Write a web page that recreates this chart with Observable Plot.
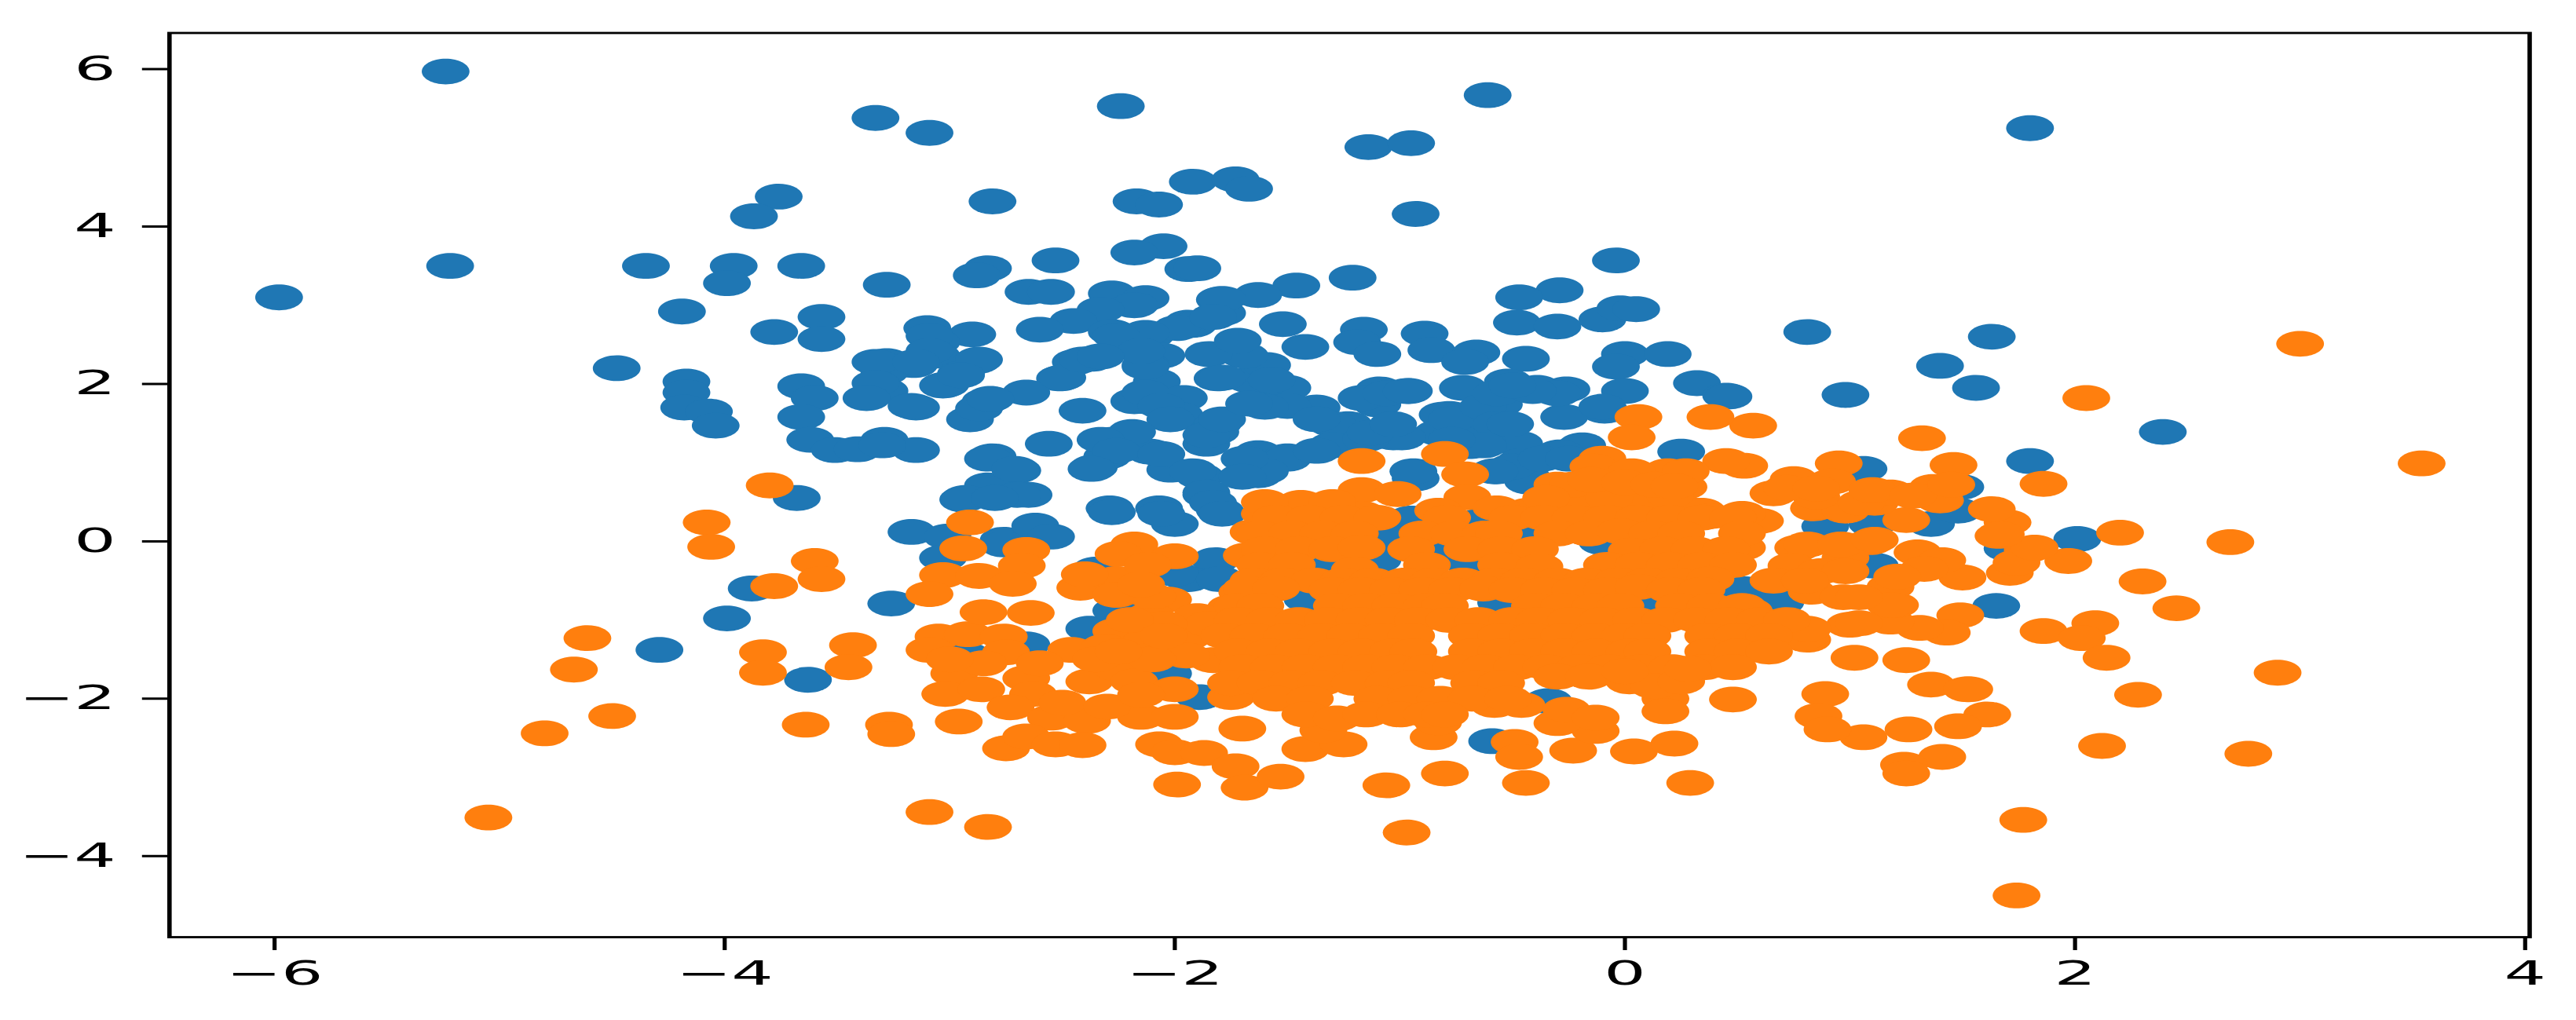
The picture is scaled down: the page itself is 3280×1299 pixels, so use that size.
<!DOCTYPE html>
<html>
<head>
<meta charset="utf-8">
<script src="https://cdn.jsdelivr.net/npm/d3@7"></script>
<script src="https://cdn.jsdelivr.net/npm/@observablehq/plot@0.6"></script>
<style>
html,body{margin:0;padding:0;background:#fff;}
</style>
</head>
<body>
<div id="chart"></div>
<script>
const xTicks = [-6,-4,-2,0,2,4];
const yTicks = [-4,-2,0,2,4,6];
const blueColor = "#1f77b4";
const orangeColor = "#ff7f0e";

const bluePoints = [
[-5.24,5.97],[-5.22,3.50],[-5.98,3.10],[-4.35,3.50],[-3.96,3.50],[-3.99,3.28],[-3.66,3.50],[-3.76,4.38],[-3.87,4.13],[-4.19,2.92],
[-3.78,2.66],[-3.57,2.85],[-3.57,2.57],[-4.48,2.20],[-4.17,2.03],[-4.17,1.89],[-4.18,1.70],[-4.07,1.65],[-4.04,1.47],[-3.66,1.97],
[-3.60,1.82],[-3.66,1.58],[-3.62,1.29],[-3.51,1.16],[-3.68,0.55],[-3.33,5.38],[-3.09,5.19],[-2.24,5.53],[-0.61,5.67],[-1.14,5.01],
[-0.95,5.06],[-2.81,4.32],[-1.92,4.57],[-1.73,4.60],[-1.67,4.48],[-2.17,4.32],[-2.07,4.28],[-0.93,4.16],[-2.05,3.75],[-2.18,3.67],
[-1.94,3.46],[-1.90,3.47],[-2.53,3.57],[-2.83,3.47],[-2.88,3.38],[-3.28,3.26],[-0.04,3.57],[-1.21,3.35],[-1.46,3.25],[-1.63,3.13],
[-1.80,3.07],[-0.29,3.19],[-0.47,3.10],[-2.65,3.17],[-2.55,3.17],[-2.28,3.15],[-2.13,3.09],[-2.18,3.00],[-2.33,2.94],[-2.45,2.80],
[-2.60,2.69],[-2.28,2.66],[-2.11,2.61],[-1.94,2.78],[-1.79,2.90],[-1.52,2.76],[-3.10,2.71],[-2.90,2.63],[-3.06,2.53],[-3.06,2.36],
[-3.28,2.29],[-3.16,2.24],[-2.88,2.29],[-2.95,2.13],[-3.02,1.99],[-3.29,2.15],[-3.29,1.91],[-3.15,1.70],[-1.16,2.69],[-1.42,2.47],
[-1.19,2.53],[-1.10,2.38],[-0.89,2.64],[-0.86,2.43],[-0.66,2.40],[-0.71,2.28],[-0.44,2.32],[-0.48,2.78],[-0.30,2.73],[-0.10,2.82],
[-0.02,2.96],[0.05,2.95],[0.00,2.38],[0.19,2.38],[-0.04,2.22],[0.00,1.91],[-0.09,1.66],[0.32,2.01],[0.45,1.85],[-0.27,1.58],
[-0.26,1.93],[-0.39,1.95],[-0.72,1.95],[-0.52,2.03],[-0.96,1.91],[-1.09,1.93],[-1.10,1.74],[-0.78,1.62],[-0.56,1.74],[-0.61,1.45],
[-0.47,1.24],[-0.69,1.21],[-0.93,0.80],[-0.20,1.16],[0.25,1.14],[-0.44,0.83],[-1.03,1.32],[-1.23,1.49],[-1.37,1.70],[-1.59,1.78],
[-1.50,1.95],[-1.81,2.07],[-1.67,2.05],[-1.59,2.24],[-1.69,2.36],[-1.85,2.38],[-2.06,2.36],[-2.13,2.24],[-2.08,2.03],[-2.13,1.78],
[-1.96,1.82],[-1.98,1.61],[-1.81,1.49],[-1.86,1.24],[-2.28,1.29],[-2.11,1.14],[-2.36,0.94],[-2.30,1.08],[-2.02,0.91],[-1.89,0.83],
[-1.86,0.59],[-1.63,1.12],[-1.63,0.84],[-1.50,1.08],[-2.41,1.66],[-2.18,1.78],[-2.37,2.32],[-2.44,2.28],[-2.51,2.07],[-2.66,1.89],
[-2.84,1.78],[-2.91,1.55],[-2.56,1.24],[-3.29,1.29],[-3.15,1.16],[-2.81,1.08],[-2.70,0.90],[-2.83,0.71],[-2.65,0.59],[-2.94,0.53],
[-2.29,0.42],[-2.07,0.42],[1.80,5.25],[0.81,2.66],[1.63,2.60],[1.40,2.23],[1.56,1.95],[0.98,1.86],[0.46,1.84],[2.39,1.39],
[1.80,1.02],[2.01,0.03],[1.65,-0.82],[0.89,0.19],[1.10,0.22],[1.36,0.22],[1.48,0.39],[1.49,0.69],[1.06,0.92],[0.69,-0.78],
[0.53,-0.61],[1.11,-0.31],[1.70,-0.09],[-0.94,0.89],[-0.43,0.76],[-0.46,1.02],[-0.57,0.89],[-0.19,1.22],[-0.29,1.13],[-0.70,1.28],
[-0.81,1.61],[-0.83,1.38],[-0.99,1.32],[-1.30,1.49],[-1.50,1.05],[-1.60,0.89],[-1.30,1.22],[-1.15,1.30],[-3.17,0.12],[-3.26,-0.79],
[-3.63,-1.76],[-3.01,0.06],[-2.76,0.02],[-2.62,0.20],[-2.55,0.06],[-3.03,-0.21],[-2.76,-0.04],[-2.28,0.37],[-2.00,0.22],[-2.06,0.35],
[-1.80,0.39],[-1.82,-0.24],[-1.94,-0.48],[-2.00,-0.41],[-1.80,-0.48],[-2.35,-0.36],[-2.38,-1.11],[-2.66,-1.31],[-2.93,-1.44],[-2.03,-1.68],
[-1.89,-1.98],[-2.26,-0.88],[-0.55,-0.78],[-1.41,-0.74],[-1.33,-0.31],[-1.10,-0.24],[-0.83,-0.11],[-0.69,-0.28],[-0.95,0.29],[-1.06,0.05],
[-0.34,-2.03],[-0.10,-0.01],[0.10,-0.74],[-0.65,0.25],[-0.59,-2.54],[-3.88,-0.60],[-3.99,-0.98],[-4.29,-1.38],[-0.43,0.12],
/* inside the blue mass */
[-1.50,1.72],[-1.37,1.55],[-1.57,2.05],[-1.60,1.71],[-1.37,1.15],[-1.17,1.82],[-1.06,1.88],[-0.97,1.91],[-1.13,1.38],[-1.03,1.49],
[-0.77,1.55],[-0.63,1.71],[-0.57,1.88],[-0.57,1.49],[-0.50,0.95],[-0.37,1.05],[-0.63,1.22],[-0.77,1.29],[-0.25,1.05],[-0.10,1.71],
[-0.30,1.88],[-0.41,1.91],[-0.50,1.98],[-0.51,1.49],[-0.58,0.89],[-2.13,2.22],[-2.13,1.89],[-2.06,1.72],[-2.02,1.55],[-2.19,1.39],
[-2.33,1.29],[-2.26,1.15],[-2.37,0.92],[-2.06,1.11],[-1.92,0.89],[-1.86,0.62],[-1.83,0.49],[-1.82,1.39],[-1.86,1.35],[-1.79,1.55],
[-1.69,1.05],[-1.70,0.82],[-1.67,1.75],[-1.79,2.08],[-1.72,2.55],[-1.92,2.75],[-1.99,2.71],[-2.13,2.65],[-2.26,2.61],[-1.79,3.08],
[-1.83,2.85],[-2.15,2.42],[-3.33,2.28],[-3.33,2.01],[-3.37,1.82],[-3.09,2.61],[-3.09,2.42],[-3.17,1.72],[-3.15,2.28],[-2.87,2.31],
[-3.03,1.98],[-2.95,2.11],[-3.41,1.17],[-3.30,1.22],[-2.83,1.05],[-2.71,0.92],[-2.70,0.59],[-2.93,0.55],[-2.80,0.55],[-2.87,1.69],
[-2.82,1.81],[-2.50,2.08],[-2.41,2.31],[-2.33,2.35],[-1.79,0.35]
];

const orangePoints = [
/* outlying points */
[3.00,2.51],[2.05,1.82],[3.54,0.99],[0.57,1.47],[1.32,1.31],[1.86,0.73],[2.20,0.11],[2.69,-0.01],[2.30,-0.51],[2.45,-0.85],
[1.97,-0.25],[2.09,-1.04],[1.86,-1.14],[2.03,-1.23],[2.14,-1.48],[2.90,-1.67],[2.28,-1.95],[2.12,-2.60],[2.77,-2.70],[1.77,-3.54],
[1.74,-4.50],[1.02,-1.48],[1.25,-1.51],[1.36,-1.82],[1.53,-1.88],[0.89,-1.94],[1.61,-2.20],[1.48,-2.35],[1.26,-2.39],[1.06,-2.49],
[0.86,-2.22],[0.90,-2.39],[1.41,-2.74],[1.24,-2.84],[1.25,-2.95],[0.48,-2.01],[1.71,-0.40],[1.79,-0.11],[1.70,0.24],[1.66,0.07],
[1.74,-0.27],[1.50,-0.46],[1.49,-0.94],[1.43,-1.16],[1.31,-1.10],[1.18,-1.02],[1.20,-0.81],[1.00,-1.06],[0.81,-1.25],[0.62,-1.37],
[1.63,0.41],[1.82,-0.08],[1.67,0.09],[0.80,-1.21],[0.61,-1.38],[1.52,-1.88],[1.25,0.27],[1.30,-0.14],[1.41,-0.24],[1.09,-0.01],
[0.98,-0.21],[0.77,-0.08],[0.84,0.42],[0.98,0.39],[1.11,0.49],[1.39,0.54],[0.66,0.61],[0.53,0.26],[0.81,-0.48],[1.18,-0.58],
[1.18,-0.81],[0.83,-0.64],[0.97,-0.71],[0.55,-0.88],[0.81,-1.11],[0.52,-1.31],[1.46,0.97],[0.95,0.99],[0.53,0.96],[0.75,0.79],
[0.92,0.76],[0.85,0.57],[1.18,0.62],[1.37,0.69],[1.40,0.52],[1.05,0.49],[0.72,0.68],[0.85,0.67],[1.10,0.65],[1.28,0.58],
[1.45,0.72],[0.60,0.26],[0.52,-0.08],[0.81,-0.04],[0.96,-0.04],[1.11,0.02],[0.74,-0.31],[0.87,-0.38],[0.98,-0.38],[1.04,-0.71],
[1.04,-1.04],[1.33,-0.35],[1.21,-0.45],
/* top of the cloud */
[0.06,1.58],[0.03,1.32],[0.38,1.58],[-0.10,1.05],[-0.30,0.72],[-1.17,1.02],[-0.80,1.11],[-0.71,0.85],[-1.17,0.65],[-1.01,0.60],
[-1.44,0.49],[0.45,1.02],[0.19,0.89],[0.26,0.69],[-0.03,0.65],[-0.43,0.39],[-0.19,0.52],[0.07,0.49],[0.26,0.42],[-0.70,0.56],
[-0.83,0.39],[-1.17,0.35],[-1.44,0.22],[-1.60,0.35],[-0.23,0.72],[-0.14,0.95],[0.03,0.89],[0.27,0.89],[0.34,0.39],[-0.57,0.42],
[-0.35,0.55],[-1.60,0.50],[-1.30,0.50],[-0.07,0.55],[0.20,0.58],[0.38,0.32],[0.52,0.35],[-0.15,0.78],[0.00,0.75],[0.13,0.72],
[0.22,0.70],
/* left part */
[-5.05,-3.51],[-4.80,-2.44],[-4.50,-2.22],[-4.67,-1.63],[-4.61,-1.23],[-4.08,0.24],[-4.06,-0.07],[-3.60,-0.25],[-3.57,-0.48],[-3.78,-0.57],
[-3.83,-1.41],[-3.83,-1.67],[-3.64,-2.33],[-3.43,-1.32],[-3.45,-1.60],[-3.80,0.71],[-2.91,0.24],[-2.94,-0.09],[-2.66,-0.11],[-2.68,-0.31],
[-3.03,-0.43],[-2.87,-0.44],[-2.72,-0.54],[-3.09,-0.67],[-2.64,-0.91],[-3.05,-1.21],[-2.92,-1.18],[-2.76,-1.21],[-3.09,-1.38],[-2.75,-1.41],
[-2.98,-1.68],[-2.66,-1.74],[-3.02,-1.94],[-2.86,-1.88],[-2.63,-1.94],[-2.73,-2.11],[-2.96,-2.29],[-3.27,-2.33],[-3.26,-2.45],[-2.55,-2.24],
[-2.39,-2.28],[-2.75,-2.63],[-2.66,-2.48],[-2.53,-2.58],[-2.41,-2.59],[-2.15,-2.23],[-2.00,-2.23],[-2.07,-2.58],[-2.00,-2.68],[-1.87,-2.69],
[-1.73,-2.86],[-1.99,-3.09],[-1.69,-3.13],[-3.09,-3.44],[-2.83,-3.63],[-1.70,-2.38],[-1.75,-1.98],[-2.18,-0.04],[-2.25,-0.16],[-2.00,-0.19],
[-2.26,-0.48],[-2.42,-0.59],[-2.03,-0.74],[-2.26,-0.68],[-2.11,-0.94],[-2.26,-1.14],[-2.46,-1.38],[-2.31,-1.34],[-2.13,-1.28],[-1.94,-1.21],
[-2.38,-1.78],[-2.26,-1.61],[-2.18,-1.78],[-2.00,-1.88],[-1.83,-1.51],[-1.75,-1.21],[-1.75,-0.84],[-1.68,-0.18],[-1.65,0.12],[-2.10,-0.70],
[-1.90,-0.95],[-1.85,-1.05],[-2.05,-1.05],[-2.20,-1.00],[-1.95,-1.45],[-2.10,-1.50],[-2.12,-0.30],[-2.40,-0.42],[-2.15,-0.55],[-2.35,-1.50],
[-2.50,-2.05],[-2.30,-2.10],[-2.15,-1.95],[-2.60,-1.55],[-2.85,-1.55],[-3.00,-1.50],[-2.85,-0.90],[-2.25,-1.40],[-2.05,-1.20],[-1.70,-0.65],
/* bottom of the cloud */
[-1.53,-2.99],[-1.42,-2.64],[-1.25,-2.58],[-1.34,-2.40],[-1.06,-3.10],[-0.80,-2.95],[-0.44,-3.07],[0.29,-3.07],[-0.97,-3.70],[-0.49,-2.55],
[-0.47,-2.74],[-0.23,-2.66],[0.04,-2.67],[0.22,-2.57],[-0.85,-2.49],[-0.13,-2.41],[-0.30,-2.31],[-0.83,-2.30],[0.18,-2.00],[0.18,-2.16],
[-0.46,-2.08],[-0.26,-2.14],[-0.13,-2.24],[-0.58,-2.08],
/* dense body, row by row */
[-1.55,0.30],[-1.40,0.30],[-1.25,0.30],[-1.10,0.30],[-0.79,0.30],[-0.50,0.30],[-0.36,0.30],[-0.22,0.30],[-0.08,0.30],[0.06,0.30],[0.20,0.30],[0.34,0.30],[0.48,0.30],
[-1.62,0.10],[-1.48,0.10],[-1.34,0.10],[-1.20,0.10],[-0.90,0.10],[-0.76,0.10],[-0.62,0.10],[-0.56,0.10],[-0.30,0.10],[-0.16,0.10],[-0.02,0.13],[0.12,0.10],[0.25,0.10],[0.52,0.10],
[-1.60,-0.10],[-1.45,-0.10],[-1.30,-0.10],[-1.17,-0.08],[-0.95,-0.10],[-0.70,-0.10],[-0.55,-0.10],[-0.40,-0.10],[0.03,-0.12],[0.17,-0.10],[0.31,-0.10],[0.45,-0.10],
[-1.62,-0.30],[-1.48,-0.30],[-1.20,-0.36],[-0.88,-0.30],[-0.55,-0.30],[-0.38,-0.32],[-0.08,-0.30],[0.06,-0.30],[0.20,-0.30],[0.34,-0.30],[0.48,-0.30],
[-1.65,-0.50],[-1.52,-0.50],[-1.38,-0.50],[-1.25,-0.50],[-1.12,-0.50],[-0.98,-0.50],[-0.85,-0.50],[-0.72,-0.50],[-0.58,-0.50],[-0.45,-0.50],[-0.30,-0.50],[-0.17,-0.50],[-0.03,-0.50],[0.10,-0.50],[0.24,-0.50],[0.38,-0.48],[0.66,-0.50],[0.80,-0.50],
[-1.68,-0.60],[-1.55,-0.60],[-1.30,-0.62],[-1.17,-0.62],[-1.03,-0.62],[-0.90,-0.62],[-0.77,-0.62],[-0.63,-0.60],[-0.50,-0.62],[-0.36,-0.62],[-0.22,-0.62],[-0.08,-0.62],[0.06,-0.58],[0.20,-0.62],[0.34,-0.62],
[-1.72,-0.82],[-1.62,-0.82],[-1.28,-0.82],[-1.15,-0.82],[-1.02,-0.82],[-0.88,-0.82],[-0.80,-0.82],[-0.40,-0.82],[-0.27,-0.82],[-0.13,-0.82],[-0.02,-0.82],[0.24,-0.82],[0.38,-0.82],[0.52,-0.82],
[-1.72,-1.00],[-1.58,-1.00],[-1.45,-1.00],[-1.32,-1.00],[-1.18,-1.00],[-1.05,-1.00],[-0.92,-1.00],[-0.78,-1.00],[-0.65,-1.00],[-0.50,-1.00],[-0.38,-1.00],[-0.24,-1.00],[-0.10,-1.00],[0.05,-1.00],[0.18,-1.00],[0.32,-1.00],[0.46,-1.00],[0.60,-1.00],[0.72,-1.00],
[-1.78,-1.20],[-1.65,-1.20],[-1.50,-1.20],[-1.35,-1.20],[-1.22,-1.20],[-1.08,-1.20],[-0.95,-1.20],[-0.68,-1.20],[-0.55,-1.20],[-0.41,-1.20],[-0.27,-1.20],[-0.13,-1.20],[0.00,-1.20],[0.10,-1.20],[0.37,-1.20],[0.50,-1.20],[0.64,-1.20],
[-1.72,-1.40],[-1.58,-1.40],[-1.45,-1.40],[-1.30,-1.40],[-1.17,-1.40],[-1.03,-1.40],[-0.94,-1.40],[-0.68,-1.40],[-0.55,-1.40],[-0.41,-1.40],[-0.27,-1.40],[-0.13,-1.40],[0.02,-1.40],[0.10,-1.40],[0.37,-1.40],[0.50,-1.40],[0.64,-1.40],
[-1.70,-1.60],[-1.56,-1.60],[-1.42,-1.60],[-1.28,-1.60],[-1.15,-1.60],[-1.02,-1.60],[-0.88,-1.60],[-0.75,-1.60],[-0.62,-1.60],[-0.48,-1.60],[-0.35,-1.60],[-0.20,-1.60],[-0.07,-1.60],[0.07,-1.60],[0.21,-1.60],[0.35,-1.60],[0.48,-1.60],
[-1.75,-1.80],[-1.62,-1.80],[-1.48,-1.80],[-1.35,-1.80],[-1.20,-1.80],[-1.05,-1.80],[-0.95,-1.80],[-0.67,-1.80],[-0.55,-1.80],[-0.30,-1.72],[-0.16,-1.72],[0.02,-1.78],[0.13,-1.84],[0.25,-1.78],[0.00,-1.65],[0.28,-1.62],
[-1.55,-2.00],[-1.40,-2.00],[-1.10,-2.00],[-0.95,-2.00],[-0.82,-2.00],[-0.68,-2.00],[-0.52,-2.00],
[-1.42,-2.20],[-1.28,-2.25],[-1.15,-2.20],[-1.00,-2.20],[-0.88,-2.20],[-0.80,-2.20]
];

const blueData = bluePoints.map(([x,y]) => ({x,y}));
const orangeData = orangePoints.map(([x,y]) => ({x,y}));
const fmt = d => String(d).replace("-", "\u2212");

// The reference is a stretched scatter: its discs are slightly taller than a plain 2:1 stretch gives.
const tallDisc = {
  draw(context, size) {
    const rx = Math.sqrt(size / Math.PI), ry = rx * 1.08, k = 0.5523;
    context.moveTo(rx, 0);
    context.bezierCurveTo(rx, k * ry, k * rx, ry, 0, ry);
    context.bezierCurveTo(-k * rx, ry, -rx, k * ry, -rx, 0);
    context.bezierCurveTo(-rx, -k * ry, -k * rx, -ry, 0, -ry);
    context.bezierCurveTo(k * rx, -ry, rx, -k * ry, rx, 0);
    context.closePath();
  }
};

const chart = Plot.plot({
  width: 1640,
  height: 1299,
  marginLeft: 107.4,
  marginRight: 30,
  marginTop: 41.5,
  marginBottom: 106,
  style: {fontFamily: "'DejaVu Sans', sans-serif", background: "#fff", color: "#000"},
  x: {domain: [-6.467, 4.02], label: null},
  y: {domain: [-5.03, 6.46], label: null},
  marks: [
    Plot.dot(blueData, {x: "x", y: "y", r: 15.2, symbol: tallDisc, fill: blueColor, stroke: "none", clip: true}),
    Plot.dot(orangeData, {x: "x", y: "y", r: 15.2, symbol: tallDisc, fill: orangeColor, stroke: "none", clip: true}),
    Plot.frame({stroke: "#000", strokeWidth: 2.8}),
    Plot.axisX({ticks: xTicks, tickFormat: fmt, tickSize: 17, tickPadding: 14, fontSize: 42, strokeWidth: 2.6, stroke: "#000", fill: "#000", label: null}),
    Plot.axisY({ticks: yTicks, tickFormat: fmt, tickSize: 17, tickPadding: 17, fontSize: 42, strokeWidth: 3, stroke: "#000", fill: "#000", label: null})
  ]
});
chart.setAttribute("width", 3280);
chart.setAttribute("height", 1299);
chart.setAttribute("preserveAspectRatio", "none");
chart.style.width = "3280px";
chart.style.height = "1299px";
chart.style.maxWidth = "none";
chart.style.filter = "blur(0.7px)";
document.getElementById("chart").appendChild(chart);
</script>
</body>
</html>
